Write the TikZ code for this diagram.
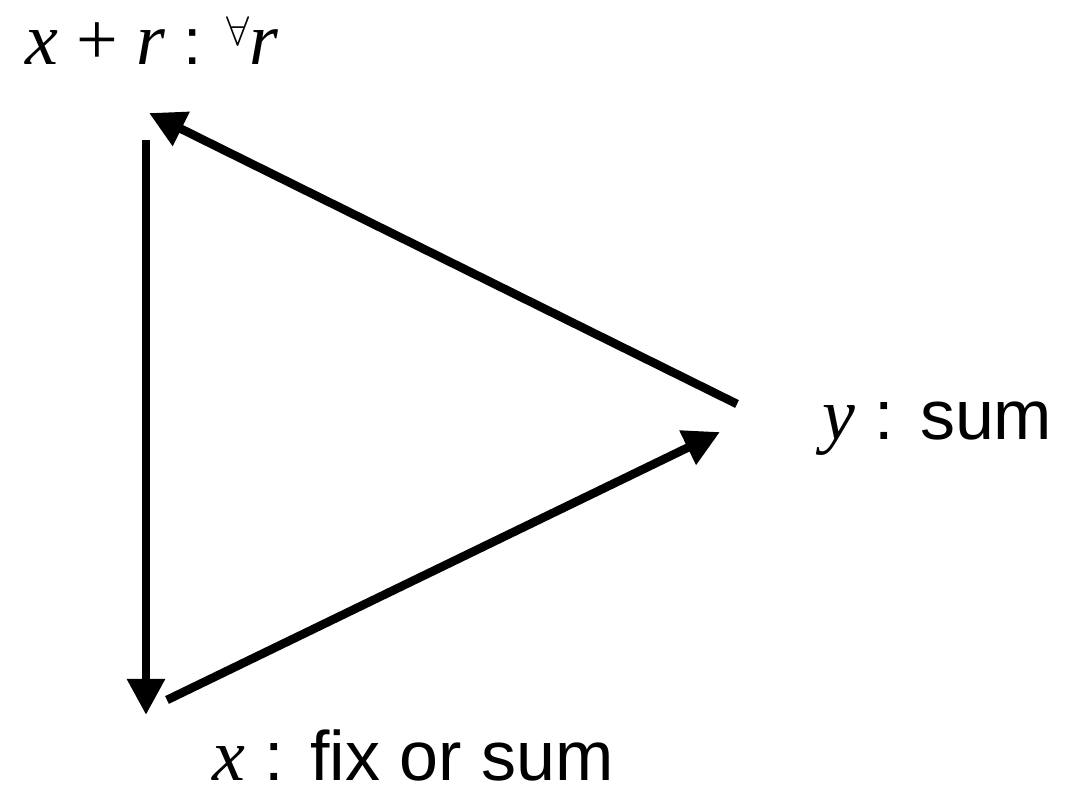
\documentclass[tikz,border=0pt]{standalone}
\usepackage{fontspec}
\setmainfont{Liberation Sans}
\newfontfamily\timesit[ItalicFont={Liberation Serif Italic}]{Liberation Serif}
\usetikzlibrary{arrows.meta, positioning}

\newcommand{\vx}[1]{{\timesit\itshape\fontsize{37}{40}\selectfont #1}}

\begin{document}
\begin{tikzpicture}[
        x=0.5pt, y=-0.5pt,
        % styles
        lbl/.style={inner sep=0pt, font=\fontsize{35}{40}\selectfont},
        arrow/.style={-{Triangle[length=18pt, width=18pt]}, line width=4.3pt, black}
    ]
    \useasboundingbox (0,0) rectangle (1083,796);

    % labels
    \node (xr)   [lbl, anchor=base west, font=\fontsize{33}{40}\selectfont] at (25,65)
        {\vx{x} {\timesit\fontsize{37}{40}\selectfont+} \vx{r} : \raisebox{0.3em}{\fontsize{22}{26}\selectfont$\forall$}\vx{r}};
    \node (ysum) [lbl, anchor=base west] at (822,440) {\vx{y} : sum};
    \node (xfix) [lbl, anchor=base west] at (212,781) {\vx{x} : fix or sum};

    % end points of the arrows
    \coordinate (xr-out)   at (146,140);
    \coordinate (xr-in)    at (149,113);
    \coordinate (xfix-in)  at (146,715);
    \coordinate (xfix-out) at (167,700);
    \coordinate (ysum-in)  at (720,432);
    \coordinate (ysum-out) at (737,404);

    % arrows
    \draw[arrow] (xr-out) -- (xfix-in);
    \draw[arrow] (xfix-out) -- (ysum-in);
    \draw[arrow] (ysum-out) -- (xr-in);

\end{tikzpicture}
\end{document}
